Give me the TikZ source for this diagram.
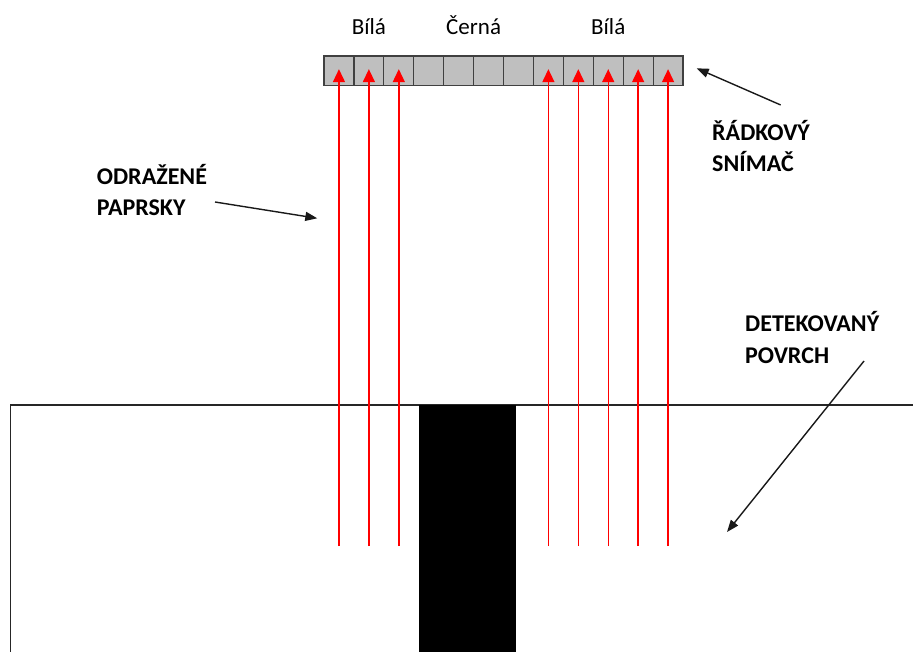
\documentclass[tikz,border=0pt]{standalone}
\usepackage{fontspec}
\setmainfont{Carlito}
\usepackage{tikz}
\usetikzlibrary{arrows.meta, positioning}

\tikzset{
  cell/.style={rectangle, draw=black!75, fill=black!25, line width=1.2pt,
    minimum width=29.92pt, minimum height=29.3pt, inner sep=0pt, outer sep=0pt},
  ray/.style={red, line width=1.4pt, -{Triangle[width=12pt,length=13pt]}},
  ptr/.style={black!90, line width=1.4pt, -{Triangle[width=9pt,length=12pt]}},
  tag/.style={font=\fontsize{23}{26}\selectfont, inner sep=0pt, anchor=base},
  callout/.style={font=\bfseries\fontsize{24}{31.5}\selectfont, align=left,
    inner sep=0pt, anchor=base west},
}

\begin{document}
\begin{tikzpicture}[x=1pt, y=-1pt]
    \useasboundingbox (0,0) rectangle (913,652);
    % surface with the black stripe
    \draw[line width=1.3pt, black!85] (913,405) -- (10.5,405) -- (10.5,652);
    \fill (419,405) rectangle (515.5,652);
    % line sensor
    \node[cell] (cell1) at (338.96,70.65) {};
    \foreach \j [count=\i from 2] in {1,...,11}
        \node[cell, right=0pt of cell\j] (cell\i) {};
    % reflected rays
    \coordinate (floor) at (0,546);
    \foreach \i in {1,2,3,8,9,10,11,12} {
        \coordinate (foot\i) at (cell\i.center |- floor);
        \draw[ray] (foot\i) -- ([yshift=1.5pt]cell\i.center);
    }
    % colour labels
    \coordinate (tagline) at (0,35);
    \node[tag] (white1) at (cell2.center |- tagline) {Bílá};
    \node[tag] (black) at (cell5.north east |- tagline) {Černá};
    \node[tag] (white2) at (cell10.center |- tagline) {Bílá};
    % callouts (base = last line)
    \node[callout] (sensorlbl) at (712,171.7) {ŘÁDKOVÝ\\SNÍMAČ};
    \node[callout] (rayslbl) at (96.7,215.7) {ODRAŽENÉ\\PAPRSKY};
    \node[callout] (surfacelbl) at (745,363) {DETEKOVANÝ\\POVRCH};
    \coordinate (sensorTail) at (780.7,105);
    \coordinate (sensorTip) at (696.7,68.3);
    \coordinate (raysTail) at (215,202);
    \coordinate (raysTip) at (317.3,218.3);
    \coordinate (surfaceTail) at (864,361);
    \coordinate (surfaceTip) at (727,532);
    \draw[ptr] (sensorTail) -- (sensorTip);
    \draw[ptr] (raysTail) -- (raysTip);
    \draw[ptr] (surfaceTail) -- (surfaceTip);
\end{tikzpicture}
\end{document}
